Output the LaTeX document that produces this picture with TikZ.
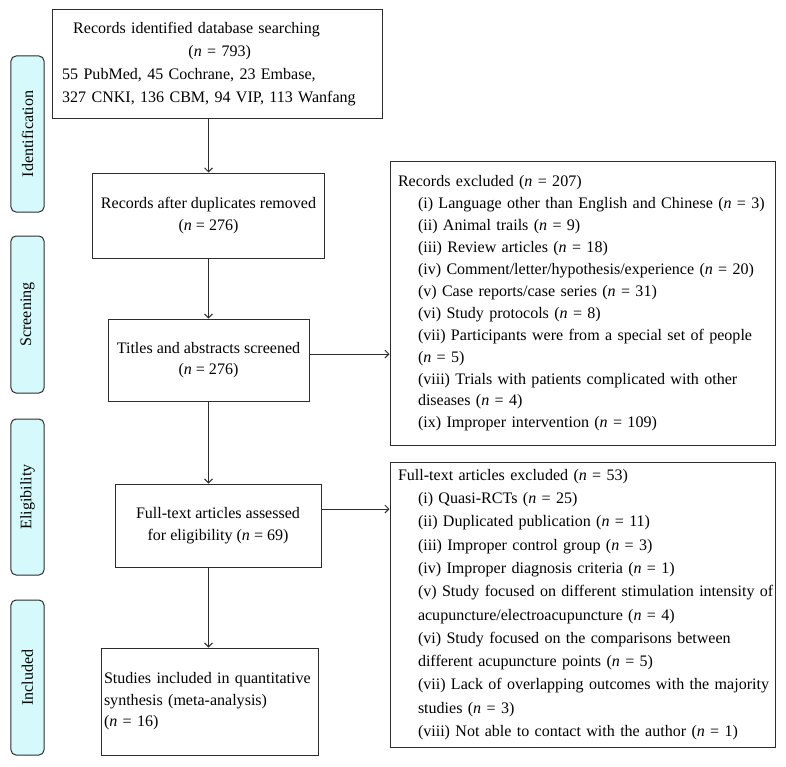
\documentclass[tikz,border=0pt]{standalone}
\usepackage{fontspec}
\setmainfont{Liberation Serif}
\usetikzlibrary{arrows.meta}
\definecolor{sidefill}{RGB}{214,250,251}
\definecolor{edge}{RGB}{45,45,45}
\newcommand\exitem[1]{\mbox{\hspace*{20bp}#1}}
\begin{document}
\begin{tikzpicture}[x=1bp,y=-1bp,
  font=\fontsize{16.1}{21.7}\selectfont,
  side/.style={draw=edge, fill=sidefill, rounded corners=5bp, line width=1bp,
    minimum height=33bp, inner sep=0, rotate=90},
  box/.style={draw=edge, line width=1bp, inner sep=0, align=center},
  txt/.style={inner sep=0, align=left},
  arr/.style={draw=edge, line width=0.9bp, -{Straight Barb[length=4bp,width=8bp]}}]
\useasboundingbox (0,0) rectangle (786,767);

% phase labels
\node[side, minimum width=156bp] (idn) at (27.5,134) {Identification};
\node[side, minimum width=157bp] (scr) at (27.5,314.5) {Screening};
\node[side, minimum width=156bp] (elg) at (27.5,497) {Eligibility};
\node[side, minimum width=155bp] (inc) at (27.5,677.5) {Included};

% main boxes
\node[box, minimum width=329bp, minimum height=108bp] (b1) at (217.5,64) {};
\node[txt, anchor=west, text width=315bp, font=\fontsize{16.1}{23.3}\selectfont] (b1t) at (62,64)
  {\hspace*{11bp}Records identified database searching\\
   \makebox[315bp][c]{(\textit{n} = 793)}\\
   55 PubMed, 45 Cochrane, 23 Embase,\\
   327 CNKI, 136 CBM, 94 VIP, 113 Wanfang};

\node[box, minimum width=231bp, minimum height=85bp] (b2) at (208.5,215.5)
  {Records after duplicates removed\\(\textit{n} = 276)};
\node[box, minimum width=201bp, minimum height=82bp] (b3) at (208.5,360)
  {Titles and abstracts screened\\(\textit{n} = 276)};
\node[box, minimum width=206bp, minimum height=83bp] (b4) at (218,525.5)
  {Full-text articles assessed\\for eligibility (\textit{n} = 69)};
\node[box, minimum width=217bp, minimum height=107bp, text width=211bp, align=left] (b5) at (209.5,701.5)
  {Studies included in quantitative\\synthesis (meta-analysis)\\(\textit{n} = 16)};

% exclusion boxes
\node[box, minimum width=385bp, minimum height=283bp, text width=369bp, align=left,
  font=\fontsize{16.1}{22}\selectfont] (ex1) at (582.5,303.5)
  {Records excluded (\textit{n} = 207)\\
   \exitem{(i) Language other than English and Chinese (\textit{n} = 3)}\\
   \exitem{(ii) Animal trails (\textit{n} = 9)}\\
   \exitem{(iii) Review articles (\textit{n} = 18)}\\
   \exitem{(iv) Comment/letter/hypothesis/experience (\textit{n} = 20)}\\
   \exitem{(v) Case reports/case series (\textit{n} = 31)}\\
   \exitem{(vi) Study protocols (\textit{n} = 8)}\\
   \exitem{(vii) Participants were from a special set of people}\\
   \exitem{(\textit{n} = 5)}\\
   \exitem{(viii) Trials with patients complicated with other}\\
   \exitem{diseases (\textit{n} = 4)}\\
   \exitem{(ix) Improper intervention (\textit{n} = 109)}};

\node[box, minimum width=385bp, minimum height=285bp, text width=369bp, align=left,
  font=\fontsize{16.1}{23.4}\selectfont] (ex2) at (582.5,604.5)
  {Full-text articles excluded (\textit{n} = 53)\\
   \exitem{(i) Quasi-RCTs (\textit{n} = 25)}\\
   \exitem{(ii) Duplicated publication (\textit{n} = 11)}\\
   \exitem{(iii) Improper control group (\textit{n} = 3)}\\
   \exitem{(iv) Improper diagnosis criteria (\textit{n} = 1)}\\
   \exitem{(v) Study focused on different stimulation intensity of}\\
   \exitem{acupuncture/electroacupuncture (\textit{n} = 4)}\\
   \exitem{(vi) Study focused on the comparisons between}\\
   \exitem{different acupuncture points (\textit{n} = 5)}\\
   \exitem{(vii) Lack of overlapping outcomes with the majority}\\
   \exitem{studies (\textit{n} = 3)}\\
   \exitem{(viii) Not able to contact with the author (\textit{n} = 1)}};

% connectors
\draw[arr] (b1.south -| b2.north) -- (b2.north);
\draw[arr] (b2.south) -- (b3.north);
\draw[arr] (b3.south) -- (b3.south |- b4.north);
\draw[arr] (b3.south |- b4.south) -- (b3.south |- b5.north);
\draw[arr] ([yshift=6bp]b3.east) -- ([yshift=6bp]b3.east -| ex1.west);
\draw[arr] ([yshift=16.5bp]b4.east) -- ([yshift=16.5bp]b4.east -| ex2.west);
\end{tikzpicture}
\end{document}
